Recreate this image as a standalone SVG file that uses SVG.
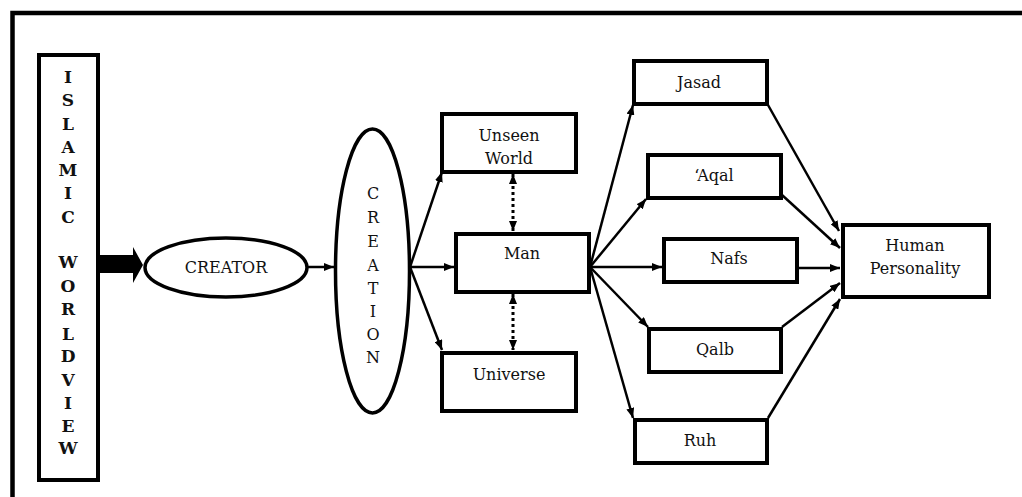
<svg xmlns="http://www.w3.org/2000/svg" width="1022" height="497" viewBox="0 0 1022 497">
<style>
.box{fill:#fff;stroke:#000;stroke-width:4}
.ell{fill:#fff;stroke:#000;stroke-width:3.5}
.t{font-family:"DejaVu Serif","Liberation Serif",serif;font-size:16px;fill:#111;text-anchor:middle}
.v{font-family:"DejaVu Serif","Liberation Serif",serif;font-size:17px;font-weight:bold;fill:#111;text-anchor:middle}
.c{fill:none;stroke:#000;stroke-width:2.5}
.d{fill:none;stroke:#000;stroke-width:3;stroke-dasharray:3 3}
</style>
<defs>
<marker id="ah" viewBox="0 0 10 8" refX="10" refY="4" markerWidth="10" markerHeight="8" markerUnits="userSpaceOnUse" orient="auto">
<path d="M0,0 L10,4 L0,8 z" fill="#000"/>
</marker>
<marker id="ahs" viewBox="0 0 10 8" refX="10" refY="4" markerWidth="10" markerHeight="8" markerUnits="userSpaceOnUse" orient="auto-start-reverse">
<path d="M0,0 L10,4 L0,8 z" fill="#000"/>
</marker>
</defs>
<rect width="1022" height="497" fill="#fff"/>
<path d="M12.5,497 V13 H1022" fill="none" stroke="#000" stroke-width="4.5"/>

<g id="connectors">
<path d="M100,255 H133 V247 L143,265 L133,283 V273 H100 z" fill="#000"/>
<path class="c" d="M308,267 H334" marker-end="url(#ah)"/>
<path class="c" d="M410,267 L442,172" marker-end="url(#ah)"/>
<path class="c" d="M410,267 H454" marker-end="url(#ah)"/>
<path class="c" d="M410,267 L442,350" marker-end="url(#ah)"/>
<path class="d" d="M513,174 V231" marker-start="url(#ahs)" marker-end="url(#ahs)"/>
<path class="d" d="M513,294 V350" marker-start="url(#ahs)" marker-end="url(#ahs)"/>
<path class="c" d="M590,267 L633,105" marker-end="url(#ah)"/>
<path class="c" d="M590,267 L646,199" marker-end="url(#ah)"/>
<path class="c" d="M590,267 H662" marker-end="url(#ah)"/>
<path class="c" d="M590,267 L648,327" marker-end="url(#ah)"/>
<path class="c" d="M590,267 L633,418" marker-end="url(#ah)"/>
<path class="c" d="M768,105 L839,231" marker-end="url(#ah)"/>
<path class="c" d="M782,195 L840,248" marker-end="url(#ah)"/>
<path class="c" d="M798,268 H840" marker-end="url(#ah)"/>
<path class="c" d="M782,327 L840,283" marker-end="url(#ah)"/>
<path class="c" d="M768,418 L840,299" marker-end="url(#ah)"/>
</g>

<g id="worldview">
<rect class="box" x="39" y="55" width="59" height="425"/>
<text class="v" x="68" y="83">I</text>
<text class="v" x="68" y="106">S</text>
<text class="v" x="68" y="130">L</text>
<text class="v" x="68" y="153">A</text>
<text class="v" x="68" y="176">M</text>
<text class="v" x="68" y="199">I</text>
<text class="v" x="68" y="223">C</text>
<text class="v" x="68" y="268">W</text>
<text class="v" x="68" y="292">O</text>
<text class="v" x="68" y="315">R</text>
<text class="v" x="68" y="340">L</text>
<text class="v" x="68" y="362">D</text>
<text class="v" x="68" y="386">V</text>
<text class="v" x="68" y="409">I</text>
<text class="v" x="68" y="432">E</text>
<text class="v" x="68" y="454">W</text>
</g>

<g id="creator">
<ellipse class="ell" cx="226" cy="267.5" rx="81" ry="29.5"/>
<text class="t" x="226" y="273">CREATOR</text>
</g>

<g id="creation">
<ellipse class="ell" cx="372.5" cy="271" rx="37" ry="142"/>
<text class="t" x="373" y="199">C</text>
<text class="t" x="373" y="223">R</text>
<text class="t" x="373" y="247">E</text>
<text class="t" x="373" y="271">A</text>
<text class="t" x="373" y="294">T</text>
<text class="t" x="373" y="317">I</text>
<text class="t" x="373" y="340">O</text>
<text class="t" x="373" y="363">N</text>
</g>

<g id="unseen">
<rect class="box" x="442" y="114" width="134" height="58"/>
<text class="t" x="509" y="141">Unseen</text>
<text class="t" x="509" y="164">World</text>
</g>

<g id="man">
<rect class="box" x="456" y="234" width="133" height="58"/>
<text class="t" x="522" y="259">Man</text>
</g>

<g id="universe">
<rect class="box" x="442" y="353" width="134" height="58"/>
<text class="t" x="509" y="380">Universe</text>
</g>

<g id="jasad">
<rect class="box" x="634" y="61" width="133" height="43"/>
<text class="t" x="699" y="88">Jasad</text>
</g>

<g id="aqal">
<rect class="box" x="648" y="155" width="133" height="43"/>
<text class="t" x="714" y="181">‘Aqal</text>
</g>

<g id="nafs">
<rect class="box" x="664" y="239" width="133" height="43"/>
<text class="t" x="729" y="264">Nafs</text>
</g>

<g id="qalb">
<rect class="box" x="649" y="329" width="132" height="43"/>
<text class="t" x="715" y="355">Qalb</text>
</g>

<g id="ruh">
<rect class="box" x="635" y="420" width="132" height="43"/>
<text class="t" x="700" y="446">Ruh</text>
</g>

<g id="personality">
<rect class="box" x="843" y="225" width="146" height="72"/>
<text class="t" x="915" y="251">Human</text>
<text class="t" x="915" y="274">Personality</text>
</g>
</svg>
